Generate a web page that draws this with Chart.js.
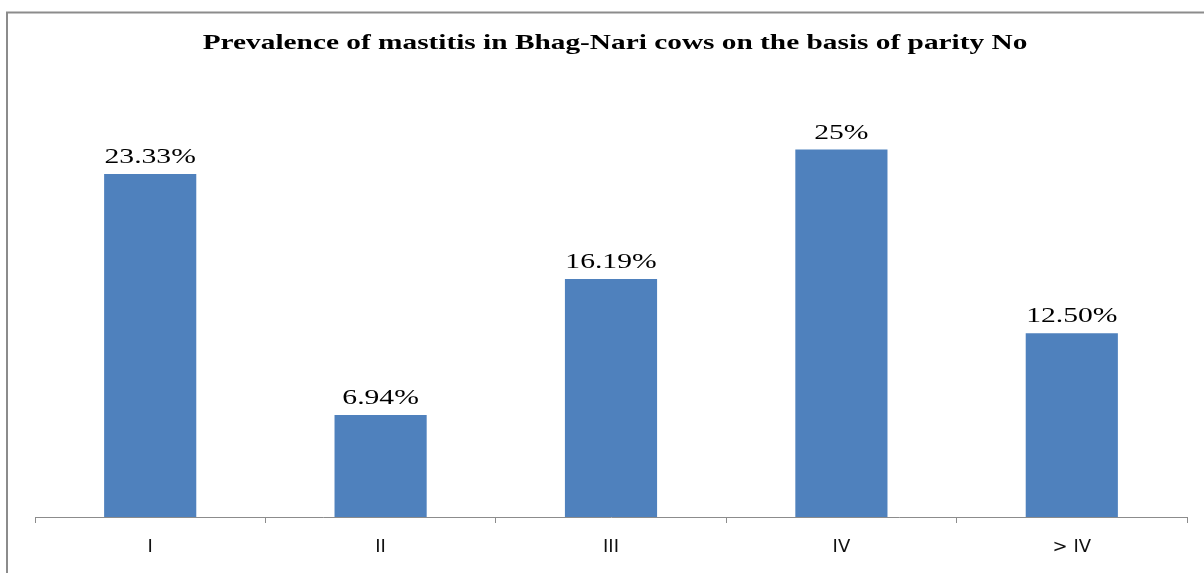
<!DOCTYPE html>
<html>
<head>
<meta charset="utf-8">
<script src="https://cdn.jsdelivr.net/npm/chart.js@4"></script>
<style>
  html, body { margin: 0; padding: 0; background: #fff; }
  #wrap { width: 1204px; height: 573px; position: relative; }
</style>
</head>
<body>
<div id="wrap"><canvas id="c" width="1204" height="573"></canvas></div>
<script>
const categories = ["I", "II", "III", "IV", "> IV"];
const prevalence = [23.33, 6.94, 16.19, 25, 12.5];
const valueLabels = ["23.33%", "6.94%", "16.19%", "25%", "12.50%"];
const chartTitle = "Prevalence of mastitis in Bhag-Nari cows on the basis of parity No";

const frame = {
  id: 'frame',
  beforeDraw(chart) {
    const ctx = chart.ctx;
    ctx.save();
    ctx.fillStyle = '#fff';
    ctx.fillRect(0, 0, chart.width, chart.height);
    ctx.strokeStyle = '#8c8c8c';
    ctx.lineWidth = 2;
    ctx.beginPath();
    ctx.moveTo(7, chart.height + 5);
    ctx.lineTo(7, 12.5);
    ctx.lineTo(chart.width + 5, 12.5);
    ctx.stroke();
    ctx.restore();
  }
};

// Draw text stretched horizontally (the reference is horizontally stretched)
function stretchedText(ctx, text, x, y, sx) {
  ctx.save();
  ctx.translate(x, y);
  ctx.scale(sx, 1);
  ctx.fillText(text, 0, 0);
  ctx.restore();
}

const titleDraw = {
  id: 'titleDraw',
  afterDraw(chart) {
    const ctx = chart.ctx;
    ctx.save();
    ctx.fillStyle = '#000';
    ctx.font = 'bold 22px "Liberation Serif"';
    ctx.textAlign = 'center';
    ctx.textBaseline = 'alphabetic';
    stretchedText(ctx, chartTitle, 615, 49, 1.333);
    ctx.restore();
  }
};

const valueDraw = {
  id: 'valueDraw',
  afterDatasetsDraw(chart) {
    const ctx = chart.ctx;
    const meta = chart.getDatasetMeta(0);
    ctx.save();
    ctx.fillStyle = '#000';
    ctx.font = '21px "Liberation Serif"';
    ctx.textAlign = 'center';
    ctx.textBaseline = 'alphabetic';
    meta.data.forEach((el, i) => {
      stretchedText(ctx, valueLabels[i], el.x, el.y - 11, 1.41);
    });
    ctx.restore();
  }
};

new Chart(document.getElementById('c'), {
  type: 'bar',
  data: {
    labels: categories,
    datasets: [{
      data: prevalence,
      backgroundColor: '#4F81BD',
      borderWidth: 0,
      categoryPercentage: 1,
      barPercentage: 0.4
    }]
  },
  options: {
    responsive: false,
    animation: false,
    devicePixelRatio: 1,
    layout: { padding: { top: 76, left: 35, right: 17, bottom: 0.4 } },
    plugins: { legend: { display: false }, title: { display: false }, tooltip: { enabled: false } },
    scales: {
      x: {
        grid: { display: true, drawOnChartArea: false, tickLength: 6, color: '#8c8c8c', offset: true },
        border: { display: true, color: '#8c8c8c', width: 1 },
        ticks: { color: '#111', font: { family: '"DejaVu Sans"', size: 18 }, padding: 14 }
      },
      y: { display: false, min: 0, max: 30 }
    }
  },
  plugins: [frame, valueDraw, titleDraw]
});
</script>
</body>
</html>
